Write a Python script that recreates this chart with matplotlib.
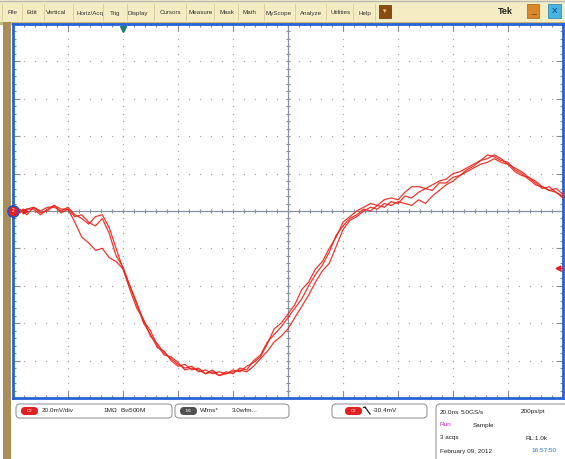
import numpy as np
import matplotlib
matplotlib.use("Agg")
import matplotlib.pyplot as plt
from matplotlib.patches import Rectangle, FancyBboxPatch

plt.rcParams['font.family'] = ['Liberation Sans', 'DejaVu Sans']

W, H = 565, 459

# 20 ns/div, 20 mV/div, 10 x 10 divisions, trigger at 2nd division
t_ns = np.linspace(-40, 160, 81)

acq1 = [0, 1, -2, 2, -1, 0, 3, -1, 1, -6, -14, -17, -21, -20, -25, -27, -31,
        -40, -50, -60, -66, -73, -75, -80, -83, -82, -85, -84, -87, -86, -88,
        -86, -87, -84, -85, -80, -77, -70, -66, -62, -57, -52, -47, -40, -34,
        -29, -22, -13, -8, -4, -2, 1, 0, 3, 2, 5, 4, 8, 7, 10, 12, 11, 15, 15,
        18, 19, 22, 24, 27, 30, 29, 27, 26, 22, 20, 17, 14, 13, 11, 10, 7]
acq2 = [1, -1, 1, 2, 0, 2, 2, 0, 2, -2, -4, -7, -3, -2, -9, -20, -31,
        -42, -52, -58, -67, -71, -76, -79, -82, -84, -83, -86, -85, -87, -86,
        -87, -85, -86, -83, -81, -78, -71, -63, -60, -55, -50, -42, -38, -31,
        -27, -20, -14, -6, -3, 0, 2, 4, 3, 6, 7, 6, 10, 13, 13, 12, 14, 16, 17,
        20, 21, 23, 25, 27, 28, 30, 28, 25, 23, 21, 18, 15, 12, 13, 10, 8]
acq3 = [-1, 0, 1, 1, -2, 1, 3, 1, 1, -3, -2, -6, -8, -4, -12, -24, -30,
        -40, -49, -59, -64, -72, -77, -78, -81, -85, -84, -85, -87, -85, -88,
        -87, -86, -85, -86, -83, -79, -75, -70, -67, -63, -57, -51, -45, -38,
        -32, -28, -19, -10, -5, -3, 0, 2, 1, 4, 3, 5, 4, 3, 6, 4, 8, 11, 14,
        16, 19, 21, 23, 25, 26, 28, 26, 25, 21, 19, 18, 16, 13, 11, 12, 9]
trig_level_mv = -30.4

menu_items = ["File", "Edit", "Vertical", "Horiz/Acq", "Trig", "Display", "Cursors",
              "Measure", "Mask", "Math", "MyScope", "Analyze", "Utilities", "Help"]
menu_x = [12, 32, 56, 90, 115, 138, 170, 201, 227, 249, 279, 311, 341, 365]

fig = plt.figure(figsize=(W / 100, H / 100), dpi=100, facecolor='white')

# window chrome in pixel coordinates
bg = fig.add_axes([0, 0, 1, 1])
bg.set_xlim(0, W)
bg.set_ylim(H, 0)
bg.axis('off')

bg.add_patch(Rectangle((0, 0), W, 22, facecolor='#f4edc4', edgecolor='none'))
bg.add_patch(Rectangle((0, 22), W, 3, facecolor='#c9b57a', edgecolor='none'))
bg.add_patch(Rectangle((3, 22), 8, H - 22, facecolor='#a88f58', edgecolor='none'))
bg.plot([0, W], [1, 1], color='#b8b8b8', lw=1)

seps = [(a + b) / 2 for a, b in zip(menu_x[:-1], menu_x[1:])] + [375]
for sx in [2] + seps:
    bg.plot([sx, sx], [4, 20], color='#d8cd98', lw=0.6)
for name, mx in zip(menu_items, menu_x):
    bg.text(mx, 13, name, fontsize=4.5, ha='center', va='center', color='#333333')

bg.add_patch(Rectangle((379, 5), 12, 13, facecolor='#8a4a10', edgecolor='#5a3008', lw=0.5))
bg.text(385, 11.5, u"\u25BE", fontsize=5, ha='center', va='center', color='#f0d080')
bg.text(505, 12, "Tek", fontsize=6.5, fontweight='bold', ha='center', va='center', color='#222222')
bg.add_patch(Rectangle((527, 4), 12, 14, facecolor='#d9882a', edgecolor='#a86010', lw=0.5))
bg.text(533, 12, "_", fontsize=6, ha='center', va='center', color='#222222')
bg.add_patch(Rectangle((548, 4), 13, 14, facecolor='#48b4e4', edgecolor='#2080b0', lw=0.5))
bg.text(554.5, 11.5, "X", fontsize=6, ha='center', va='center', color='#103060')

# readout boxes under the graticule
def box(x0, y0, x1, y1):
    bg.add_patch(FancyBboxPatch((x0, y0), x1 - x0, y1 - y0,
                                boxstyle='round,pad=0,rounding_size=4',
                                facecolor='white', edgecolor='#9a9a9a', lw=0.8))

def badge(x0, y, label, color):
    bg.add_patch(FancyBboxPatch((x0, y - 4), 17, 8,
                                boxstyle='round,pad=0,rounding_size=4',
                                facecolor=color, edgecolor='none'))
    bg.text(x0 + 8.5, y, label, fontsize=3.2, ha='center', va='center', color='white')

tx = dict(fontsize=4.6, va='center', color='#222222')
box(16, 404, 172, 418)
badge(21, 411, "C2", '#e02020')
bg.text(42, 411, "20.0mV/div", **tx)
bg.text(103, 411, u"1M\u03a9", **tx)
bg.text(120, 411, r"$\mathregular{B_W}$500M", **tx)

box(175, 404, 289, 418)
badge(180, 411, "M1", '#505050')
bg.text(200, 411, "Wfms*", **tx)
bg.text(232, 411, "3.0wfm...", **tx)

box(332, 404, 427, 418)
badge(345, 411, "C2", '#e02020')
bg.plot([365, 370], [407, 414], color='#222222', lw=0.9)
bg.plot([363, 365], [407, 407], color='#222222', lw=0.9)
bg.text(373, 411, "-30.4mV", **tx)

box(436, 404, 568, 468)
bg.text(440, 412, "20.0ns", **tx)
bg.text(461, 412, "5.0GS/s", **tx)
bg.text(521, 412, "200ps/pt", **tx)
bg.text(440, 425, "Run", fontsize=4.6, va='center', color='#d020d0')
bg.text(473, 425, "Sample", **tx)
bg.text(440, 438, "3 acqs", **tx)
bg.text(526, 438, "RL:1.0k", **tx)
bg.text(440, 451, "February 09, 2012", **tx)
bg.text(531, 451, "16:57:50", fontsize=4.6, va='center', color='#2070d0')

# graticule
L, R, T, B = 13, 563, 24, 398
ax = fig.add_axes([L / W, 1 - B / H, (R - L) / W, (B - T) / H])
ax.set_facecolor('white')
ax.set_xlim(-40, 160)
ax.set_ylim(-100, 100)

xmaj = np.arange(-40, 161, 20)
ymaj = np.arange(-100, 101, 20)
xmin = np.arange(-40, 161, 4)
ymin = np.arange(-100, 101, 4)
ax.set_xticks(xmaj)
ax.set_yticks(ymaj)
ax.set_xticks(xmin, minor=True)
ax.set_yticks(ymin, minor=True)
ax.tick_params(which='both', direction='in', top=True, right=True,
               labelbottom=False, labelleft=False, color='#8a8a8a', width=0.8)
ax.tick_params(which='major', length=5)
ax.tick_params(which='minor', length=2.5)
for s in ax.spines.values():
    s.set_color('#2563d6')
    s.set_linewidth(2.0)

dot = dict(s=1.0, color='#a8a8a8', lw=0, zorder=1)
for gx in xmaj[1:-1]:
    if gx != 60:
        ax.scatter(np.full(len(ymin), gx), ymin, **dot)
for gy in ymaj[1:-1]:
    if gy != 0:
        ax.scatter(xmin, np.full(len(xmin), gy), **dot)

cross = '#8493a4'
ax.axvline(60, color=cross, lw=0.9, zorder=2)
ax.axhline(0, color=cross, lw=0.9, zorder=2)
ax.plot(xmin, np.zeros(len(xmin)), ls='none', marker='|', ms=3, mew=0.8, color=cross, zorder=2)
ax.plot(np.full(len(ymin), 60), ymin, ls='none', marker='_', ms=3, mew=0.8, color=cross, zorder=2)

for acq in (acq1, acq2, acq3):
    ax.plot(t_ns, acq, color='#ec2318', lw=0.9, alpha=0.9, zorder=4)

# trigger position, channel ground and trigger level markers
ax.plot(0, 97.5, marker='v', ms=4.5, color='#1e7d74', clip_on=False, zorder=6)
ax.plot(-35.5, 0, marker='>', ms=3.5, color='#e82020', clip_on=False, zorder=6)
ax.plot(-40, 0, marker='o', ms=8, mfc='#e82020', mec='#2050d0', mew=1.2, clip_on=False, zorder=7)
ax.text(-40, 0, "2", fontsize=3.5, ha='center', va='center', color='white', zorder=8)
ax.plot(158, trig_level_mv, marker='<', ms=3.5, color='#e82020', clip_on=False, zorder=6)
ax.plot([158, 160], [trig_level_mv, trig_level_mv], color='#e82020', lw=0.6, zorder=6)

fig.savefig('out.png', dpi=100, facecolor='white')
